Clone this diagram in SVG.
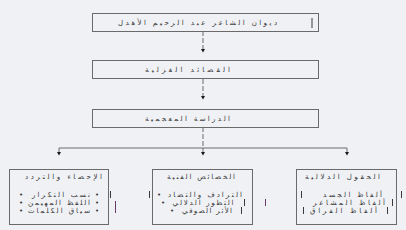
<svg xmlns="http://www.w3.org/2000/svg" width="406" height="230" viewBox="0 0 406 230">
<style>
.bg{fill:#f0f1f5}
.box{fill:none;stroke:#6a6a6a;stroke-width:1}
.t{font-family:"DejaVu Sans",sans-serif;font-size:7px;fill:#3a3a3a;text-anchor:middle}
.b{font-family:"DejaVu Sans",sans-serif;font-size:7px;fill:#3a3a3a;text-anchor:middle}
.bar{stroke:#3a3a3a;stroke-width:1}
.pbar{stroke:#6a3a6a;stroke-width:1}
.c{fill:none;stroke:#6a6a6a;stroke-width:1}
.d{stroke-dasharray:5 2}
.ah{fill:#1a1a1a}
</style>
<rect class="bg" x="0" y="0" width="406" height="230"/>
<g id="connectors">
<line class="c d" x1="203" y1="31" x2="203" y2="49"/>
<polygon class="ah" points="201,49 205,49 203,52.5"/>
<line class="c d" x1="203" y1="79" x2="203" y2="96"/>
<polygon class="ah" points="201,96 205,96 203,99.5"/>
<line class="c d" x1="203" y1="127" x2="203" y2="148"/>
<polyline class="c" points="59,152 59,148 347,148 347,152"/>
<line class="c" x1="203" y1="148" x2="203" y2="152"/>
<polygon class="ah" points="57,152 61,152 59,155.5"/>
<polygon class="ah" points="201,152 205,152 203,155.5"/>
<polygon class="ah" points="345,152 349,152 347,155.5"/>
</g>
<g id="n1">
<rect class="box" x="92.5" y="13.5" width="226" height="18"/>
<text class="t" x="197.5" y="25" textLength="159" lengthAdjust="spacing">ديوان الشاعر عبد الرحيم الأهدل</text>
<line class="bar" x1="312" y1="18" x2="312" y2="28"/>
</g>
<g id="n2">
<rect class="box" x="92.5" y="60.5" width="226" height="18"/>
<text class="t" x="187.5" y="72" textLength="85" lengthAdjust="spacing">القصائد الغزلية</text>
</g>
<g id="n3">
<rect class="box" x="92.5" y="109.5" width="226" height="18"/>
<text class="t" x="187.5" y="121" textLength="85" lengthAdjust="spacing">الدراسة المعجمية</text>
</g>
<g id="n4">
<rect class="box" x="9.5" y="169.5" width="99" height="55"/>
<text class="t" x="63.5" y="178.5" textLength="77" lengthAdjust="spacing">الإحصاء والتردد</text>
<text class="b" x="21" y="196.5">•</text>
<text class="t" x="61" y="196.5" textLength="58" lengthAdjust="spacing">نسب التكرار</text>
<text class="b" x="97" y="196.5">•</text>
<text class="b" x="21" y="204.5">•</text>
<text class="t" x="59" y="204.5" textLength="62" lengthAdjust="spacing">اللفظ المهيمن</text>
<text class="b" x="97" y="204.5">•</text>
<text class="b" x="21" y="212.5">•</text>
<text class="t" x="59" y="212.5" textLength="62" lengthAdjust="spacing">سياق الكلمات</text>
<text class="b" x="97" y="212.5">•</text>
<line class="bar" x1="110.5" y1="191" x2="110.5" y2="198"/>
<line class="pbar" x1="115.5" y1="201" x2="115.5" y2="213"/>
</g>
<g id="n5">
<rect class="box" x="152.5" y="169.5" width="100" height="55"/>
<text class="t" x="201" y="178.5" textLength="68" lengthAdjust="spacing">الخصائص الفنية</text>
<line class="bar" x1="149.5" y1="191" x2="149.5" y2="198"/>
<text class="b" x="159" y="196.5">•</text>
<text class="t" x="205" y="196.5" textLength="74" lengthAdjust="spacing">الترادف والتضاد</text>
<text class="b" x="163" y="204.5">•</text>
<text class="t" x="203" y="204.5" textLength="61" lengthAdjust="spacing">التطور الدلالي</text>
<line class="bar" x1="244.5" y1="199" x2="244.5" y2="206"/>
<line class="pbar" x1="265.5" y1="199" x2="265.5" y2="206"/>
<text class="b" x="172" y="212.5">•</text>
<text class="t" x="207" y="212.5" textLength="50" lengthAdjust="spacing">الأثر الصوفي</text>
<line class="bar" x1="241.5" y1="207" x2="241.5" y2="214"/>
</g>
<g id="n6">
<rect class="box" x="296.5" y="169.5" width="100" height="55"/>
<text class="t" x="342.5" y="178.5" textLength="75" lengthAdjust="spacing">الحقول الدلالية</text>
<line class="bar" x1="301.5" y1="191" x2="301.5" y2="198"/>
<text class="t" x="352.5" y="196.5" textLength="59" lengthAdjust="spacing">ألفاظ الجسد</text>
<line class="bar" x1="401.5" y1="191" x2="401.5" y2="198"/>
<text class="t" x="349" y="204.5" textLength="72" lengthAdjust="spacing">ألفاظ المشاعر</text>
<line class="bar" x1="392.5" y1="199" x2="392.5" y2="206"/>
<line class="bar" x1="303.5" y1="207" x2="303.5" y2="214"/>
<text class="t" x="343.5" y="212.5" textLength="67" lengthAdjust="spacing">ألفاظ الفراق</text>
<line class="bar" x1="387.5" y1="207" x2="387.5" y2="214"/>
</g>
</svg>
